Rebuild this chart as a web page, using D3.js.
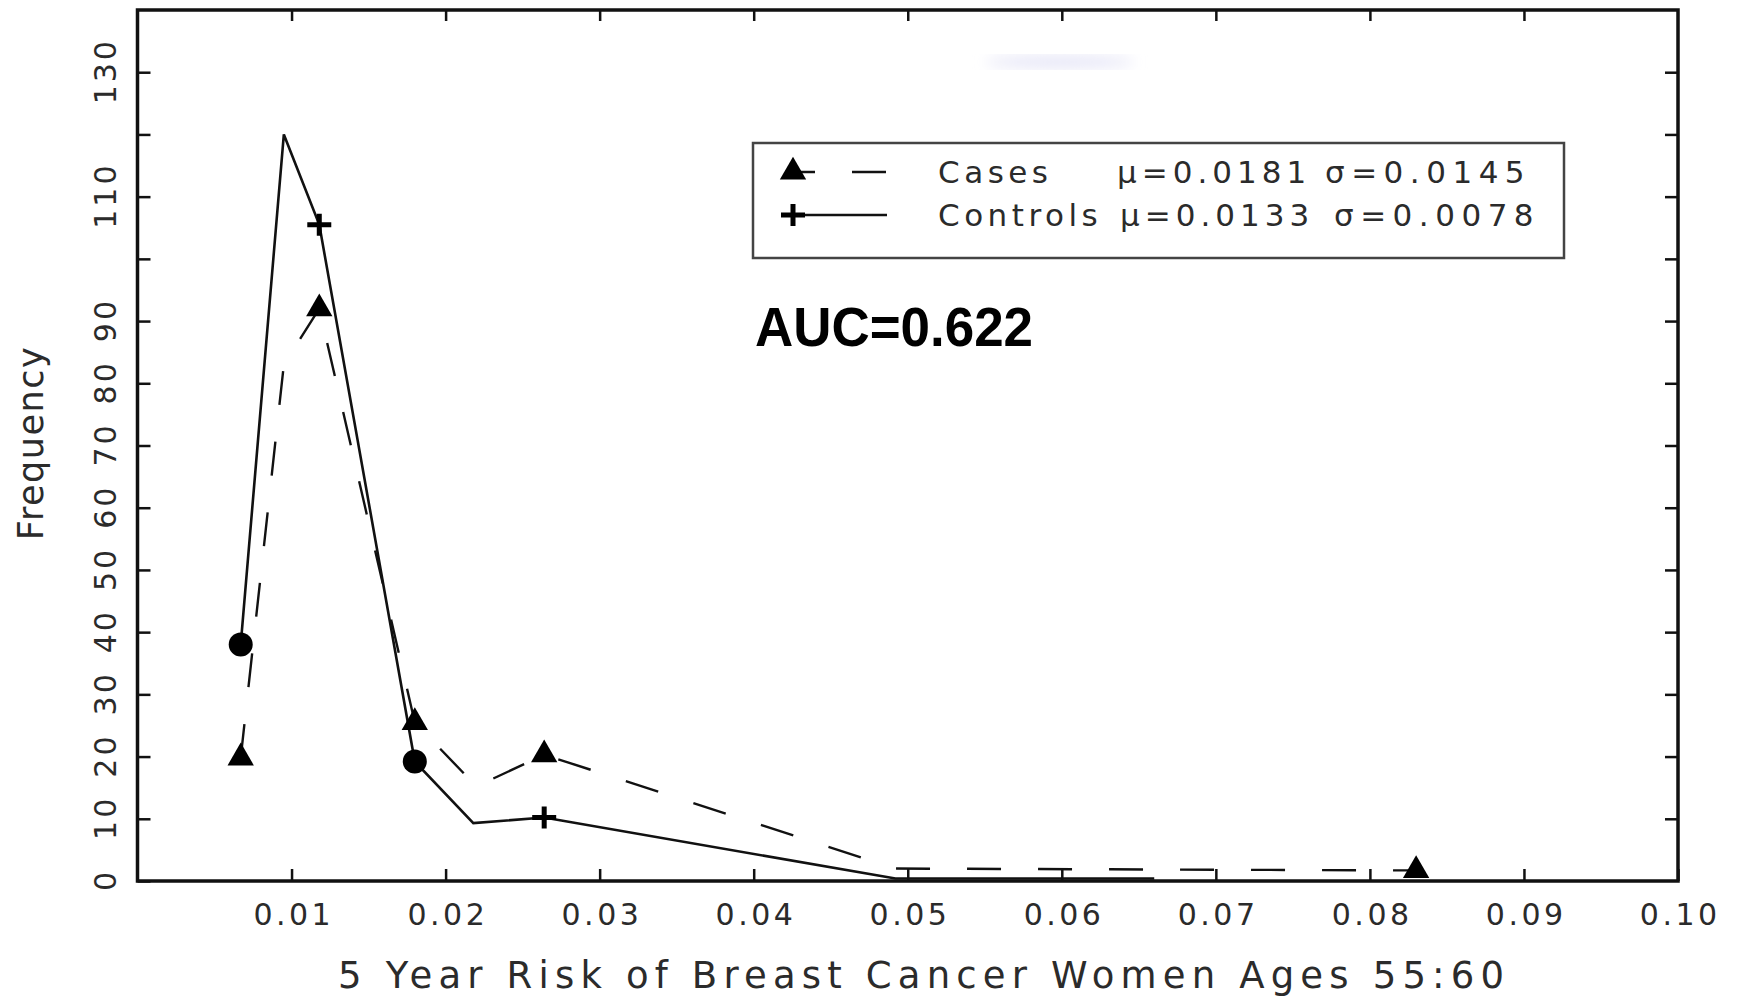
<!DOCTYPE html>
<html>
<head>
<meta charset="utf-8">
<script src="https://cdn.jsdelivr.net/npm/d3@7"></script>
<style>
  html, body { margin: 0; padding: 0; background: #ffffff; }
  svg { display: block; }
</style>
</head>
<body>
<svg id="chart" width="1738" height="997"></svg>
<script>
// ---------------- data ----------------
const casesX    = [0.0067, 0.0095, 0.0118, 0.0180, 0.0220, 0.0264, 0.0492, 0.0830];
const casesY    = [19.8,   83,     92,     25.5,   15.2,   20.3,   2.0,    1.7];
const casesMark = [true,   false,  true,   true,   false,  true,   false,  true];

const controlsX    = [0.0067, 0.0095, 0.0118, 0.0180, 0.0218, 0.0264, 0.0492, 0.0660];
const controlsY    = [38,     120,    105.5,  19.2,   9.3,    10.2,   0.4,    0.4];
const controlsMark = ["circle", null, "plus", "circle", null, "plus", null,   null];

const xTicks      = [0.01, 0.02, 0.03, 0.04, 0.05, 0.06, 0.07, 0.08, 0.09, 0.10];
const xTickLabels = ["0.01","0.02","0.03","0.04","0.05","0.06","0.07","0.08","0.09","0.10"];
const yTicks      = [0, 10, 20, 30, 40, 50, 60, 70, 80, 90, 100, 110, 120, 130];
const yTickLabels = ["0","10","20","30","40","50","60","70","80","90","","110","","130"];

const legendLabels = ["Cases", "Controls"];
const legendMu     = ["\u03bc=0.0181", "\u03bc=0.0133"];
const legendSigma  = ["\u03c3=0.0145", "\u03c3=0.0078"];
const aucText   = "AUC=0.622";
const xTitle    = "5 Year Risk of Breast Cancer Women Ages 55:60";
const yTitle    = "Frequency";

// ---------------- layout ----------------
const svg = d3.select("#chart");
const L = 137.5, R = 1678, T = 10, B = 881;
const x = d3.scaleLinear().domain([0, 0.10]).range([L, R]);
const y = d3.scaleLinear().domain([0, 140]).range([B, T]);

const font = "'DejaVu Sans', sans-serif";
const ink = "#2b2b2b";

svg.append("rect").attr("width", 1738).attr("height", 997).attr("fill", "#fff");

// faint smudge near the top of the frame
const defs = svg.append("defs");
defs.append("filter").attr("id", "blur").append("feGaussianBlur").attr("stdDeviation", 7);
svg.append("ellipse").attr("cx", 1060).attr("cy", 62).attr("rx", 75).attr("ry", 6)
  .attr("fill", "#e4e4f6").attr("filter", "url(#blur)");

// bottom axis
const lsX = 3.5;
const gx = svg.append("g").attr("transform", `translate(0,${y(0)})`)
  .call(d3.axisBottom(x).tickValues(xTicks).tickFormat((d, i) => xTickLabels[i])
        .tickSizeInner(-12).tickSizeOuter(0).tickPadding(23));
gx.select(".domain").remove();
gx.selectAll("line").attr("stroke", "#111").attr("stroke-width", 2.5);
gx.selectAll("text").attr("font-family", font).attr("font-size", 30)
  .attr("fill", ink).attr("letter-spacing", lsX).attr("dx", lsX / 2);

// top axis
const gt = svg.append("g").attr("transform", `translate(0,${y(140)})`)
  .call(d3.axisTop(x).tickValues(xTicks.slice(0, 9)).tickFormat("").tickSizeInner(-11).tickSizeOuter(0));
gt.select(".domain").remove();
gt.selectAll("line").attr("stroke", "#111").attr("stroke-width", 2.5);

// left axis
const lsY = 3;
const gy = svg.append("g").attr("transform", `translate(${x(0)},0)`)
  .call(d3.axisLeft(y).tickValues(yTicks).tickFormat((d, i) => yTickLabels[i])
        .tickSizeInner(-13).tickSizeOuter(0));
gy.select(".domain").remove();
gy.selectAll("line").attr("stroke", "#111").attr("stroke-width", 2.5);
gy.selectAll("text")
  .attr("transform", "rotate(-90)")
  .attr("x", lsY / 2).attr("y", -22).attr("dy", 0)
  .attr("text-anchor", "middle")
  .attr("font-family", font).attr("font-size", 30)
  .attr("fill", ink).attr("letter-spacing", lsY);

// right axis
const gr = svg.append("g").attr("transform", `translate(${x(0.10)},0)`)
  .call(d3.axisRight(y).tickValues(yTicks.slice(1)).tickFormat("").tickSizeInner(-13).tickSizeOuter(0));
gr.select(".domain").remove();
gr.selectAll("line").attr("stroke", "#111").attr("stroke-width", 2.5);

// frame
svg.append("rect")
  .attr("x", x(0)).attr("y", y(140))
  .attr("width", x(0.10) - x(0)).attr("height", y(0) - y(140))
  .attr("fill", "none").attr("stroke", "#111").attr("stroke-width", 3.5);

// axis titles
svg.append("text")
  .attr("x", 921).attr("y", 988)
  .attr("text-anchor", "middle")
  .attr("font-family", font).attr("font-size", 37).attr("fill", ink)
  .attr("textLength", 1166).attr("lengthAdjust", "spacing")
  .text(xTitle);

svg.append("text")
  .attr("transform", "translate(43,443) rotate(-90)")
  .attr("text-anchor", "middle")
  .attr("font-family", font).attr("font-size", 35).attr("fill", ink)
  .attr("letter-spacing", 1.5)
  .text(yTitle);

// ---------------- series ----------------
const casesData = d3.zip(casesX, casesY, casesMark).map(([a, b, m]) => ({x: a, y: b, m}));
const controlsData = d3.zip(controlsX, controlsY, controlsMark).map(([a, b, m]) => ({x: a, y: b, m}));

const line = d3.line().x(d => x(d.x)).y(d => y(d.y));

svg.append("path").datum(controlsData).attr("d", line)
  .attr("fill", "none").attr("stroke", "#111").attr("stroke-width", 2.6)
  .attr("stroke-linejoin", "miter");

svg.append("path").datum(casesData).attr("d", line)
  .attr("fill", "none").attr("stroke", "#111").attr("stroke-width", 2.4)
  .attr("stroke-dasharray", "34,37");

const tri = d3.symbol().type(d3.symbolTriangle).size(300);
const plusPath = "M-12,0H12M0,-11V11";

svg.append("g").selectAll("path").data(casesData.filter(d => d.m)).join("path")
  .attr("d", tri)
  .attr("transform", d => `translate(${x(d.x)},${y(d.y)})`)
  .attr("fill", "#000");

svg.append("g").selectAll("circle").data(controlsData.filter(d => d.m === "circle")).join("circle")
  .attr("cx", d => x(d.x)).attr("cy", d => y(d.y)).attr("r", 12).attr("fill", "#000");

svg.append("g").selectAll("path").data(controlsData.filter(d => d.m === "plus")).join("path")
  .attr("d", plusPath)
  .attr("transform", d => `translate(${x(d.x)},${y(d.y)})`)
  .attr("stroke", "#000").attr("stroke-width", 5).attr("fill", "none");

// ---------------- legend ----------------
svg.append("rect")
  .attr("x", 753).attr("y", 143).attr("width", 811).attr("height", 115)
  .attr("fill", "#fff").attr("stroke", "#444").attr("stroke-width", 2.5);

const rowsY = [172, 215];
svg.append("line").attr("x1", 793).attr("x2", 887).attr("y1", rowsY[0]).attr("y2", rowsY[0])
  .attr("stroke", "#111").attr("stroke-width", 2.4)
  .attr("stroke-dasharray", "34,37").attr("stroke-dashoffset", 12);
svg.append("path").attr("d", tri).attr("transform", `translate(793,${rowsY[0]})`).attr("fill", "#000");
svg.append("line").attr("x1", 793).attr("x2", 887).attr("y1", rowsY[1]).attr("y2", rowsY[1])
  .attr("stroke", "#111").attr("stroke-width", 2.6);
svg.append("path").attr("d", plusPath).attr("transform", `translate(793,${rowsY[1]})`)
  .attr("stroke", "#000").attr("stroke-width", 5);

const muX = [1117, 1120], sigX = [1325, 1334];
legendLabels.forEach((lab, i) => {
  const t = svg.append("text")
    .attr("y", rowsY[i] + 11)
    .attr("font-family", font).attr("font-size", 31).attr("fill", ink)
    .attr("letter-spacing", 4.5);
  t.append("tspan").attr("x", 938).text(lab);
  t.append("tspan").attr("x", muX[i]).attr("letter-spacing", 5).text(legendMu[i]);
  t.append("tspan").attr("x", sigX[i]).attr("letter-spacing", 6.5).text(legendSigma[i]);
});

// ---------------- AUC annotation ----------------
svg.append("text")
  .attr("x", 755).attr("y", 346)
  .attr("font-family", "'Liberation Sans', Arial, sans-serif")
  .attr("font-weight", "bold").attr("font-size", 56).attr("fill", "#000")
  .attr("textLength", 278).attr("lengthAdjust", "spacingAndGlyphs")
  .text(aucText);
</script>
</body>
</html>
